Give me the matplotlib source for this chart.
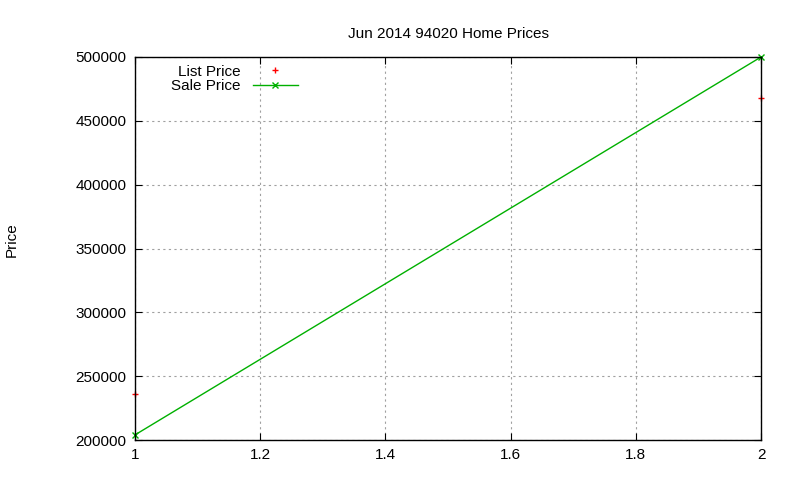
import matplotlib
matplotlib.use("Agg")
import matplotlib.pyplot as plt

x = [1, 2]
list_price = [236000, 468000]
sale_price = [204000, 500000]

plt.rcParams.update({"font.family": "Liberation Sans", "font.size": 11})

fig = plt.figure(figsize=(8, 4.8), dpi=100)
ax = fig.add_axes([135 / 800, 40 / 480, 626 / 800, 383 / 480])

ax.plot(x, list_price, "+", color="red", ms=5, mew=1, ls="none", label="List Price", clip_on=False)
ax.plot(x, sale_price, "-x", color="#00b000", lw=1, ms=5, mew=1, label="Sale Price", clip_on=False)

ax.set_xlim(1, 2)
ax.set_ylim(200000, 500000)
ax.set_xticks([1, 1.2, 1.4, 1.6, 1.8, 2])
ax.set_xticklabels(["1", "1.2", "1.4", "1.6", "1.8", "2"])
ax.set_yticks(range(200000, 500001, 50000))
ax.grid(True, color="#a0a0a0", ls=(0, (2, 3)), lw=0.8)
ax.tick_params(direction="in", top=True, right=True, length=5, pad=6)
for s in ax.spines.values():
    s.set_linewidth(1)

ax.set_title("Jun 2014 94020 Home Prices", fontsize=11, pad=14)
fig.text(12 / 800, 0.5, "Price", rotation=90, va="center", ha="center", fontsize=11)

leg = ax.legend(loc="upper left", bbox_to_anchor=(0.045, 1.0), frameon=False,
                markerfirst=False, handlelength=3, fontsize=11,
                borderaxespad=0.1, labelspacing=0.05)
for t in leg.get_texts():
    t.set_ha("right")

fig.savefig("out.png", dpi=100)
